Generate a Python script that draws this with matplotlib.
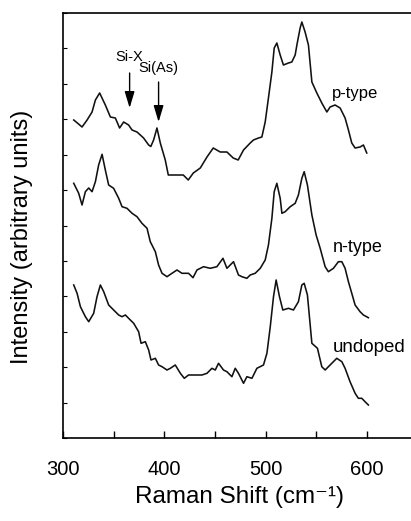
import numpy as np
import matplotlib
matplotlib.use("Agg")
import matplotlib.pyplot as plt

plt.rcParams['font.family'] = ['Liberation Sans', 'DejaVu Sans']

# Raman shift (cm^-1) and offset intensities (arbitrary units) for each sample
p_shift = [310.6, 314.2, 318.8, 323.8, 328.7, 332.0, 336.2, 341.8, 346.8, 351.7,
           355.9, 359.9, 364.8, 368.2, 373.1, 379.6, 384.6, 386.7, 389.5, 392.8,
           396.1, 401.0, 404.0, 408.9, 418.8, 423.7, 428.7, 435.6, 442.2, 448.4,
           455.3, 461.9, 468.1, 473.0, 478.3, 484.9, 488.1, 493.1, 496.4, 499.7,
           502.9, 506.3, 508.6, 511.2, 514.5, 517.7, 522.7, 526.0, 529.3, 531.0,
           534.2, 535.9, 539.1, 542.4, 545.8, 550.7, 555.6, 560.6, 563.8, 568.7,
           573.7, 578.6, 581.9, 585.2, 588.5, 593.4, 596.7, 600.0]
p_int = [318, 315, 311, 318, 326, 338, 345, 333, 321, 320,
         310, 316, 313, 308, 306, 300, 293, 291.5, 298, 310,
         295, 278, 263, 263, 263, 258, 265, 270, 281, 290,
         286, 286, 280, 278, 288, 295, 298, 300, 301, 316,
         340, 366, 390, 395, 383, 373, 375, 376, 383, 393,
         410, 416, 406, 393, 356, 345, 335, 326, 331, 333,
         330, 320, 308, 295, 290, 291, 293, 285]

n_shift = [310.6, 315.5, 318.8, 322.1, 325.4, 328.7, 332.0, 335.2, 338.6, 341.8,
           345.1, 350.0, 355.0, 358.3, 363.2, 368.2, 373.1, 378.0, 383.0, 386.2,
           391.2, 394.4, 397.8, 402.7, 407.6, 412.6, 417.5, 424.0, 428.4, 432.3,
           438.8, 445.4, 452.0, 458.0, 461.9, 468.4, 473.3, 476.7, 481.6, 484.9,
           489.8, 494.8, 499.7, 502.9, 506.3, 508.6, 511.2, 514.5, 516.2, 519.4,
           524.4, 529.3, 532.5, 535.9, 538.2, 541.4, 545.8, 550.0, 554.0, 558.9,
           562.1, 567.1, 572.0, 575.4, 578.6, 581.9, 585.2, 588.5, 593.4, 596.7,
           601.6]
n_int = [254.7, 244.7, 233, 246.3, 250, 246.3, 256.3, 273, 283.7, 268,
         253, 249.7, 239.7, 231.3, 229.7, 224.7, 221.3, 214.7, 209.7, 196.3,
         186.3, 173, 164.7, 161.3, 164.7, 168, 164.7, 164.7, 160.3, 168,
         171.3, 169.7, 171.3, 179.7, 169.7, 176.3, 163, 161.3, 159.7, 163,
         164.7, 169.7, 178, 193, 219.7, 246.3, 254.7, 239.7, 224.7, 226.3,
         231.3, 234.7, 243, 259.7, 266.3, 253, 223, 203, 189.7, 171.3,
         166.3, 169.7, 176.3, 176.3, 169.7, 156.3, 144.7, 133, 126.3, 123,
         120.3]

u_shift = [310.6, 313.9, 317.2, 322.1, 325.4, 330.3, 333.6, 336.9, 340.2, 345.1,
           350.0, 355.0, 358.3, 361.6, 364.8, 369.8, 374.7, 377.1, 381.3, 384.6,
           386.9, 391.2, 394.4, 397.8, 402.7, 406.0, 410.9, 415.9, 419.8, 424.0,
           430.6, 437.2, 442.2, 447.1, 450.4, 453.6, 458.5, 461.9, 466.8, 470.1,
           473.3, 478.3, 481.6, 486.6, 491.5, 498.0, 501.4, 504.7, 507.9, 510.5,
           513.8, 517.1, 522.7, 527.6, 532.5, 535.9, 538.2, 541.4, 545.8, 551.3,
           555.6, 558.9, 563.8, 570.4, 575.4, 578.6, 583.5, 588.5, 591.7, 595.1,
           598.3, 601.6]
u_int = [153, 144.7, 131.3, 121.3, 116.3, 124.7, 141.3, 153, 146.3, 133,
         128, 123, 121.3, 123, 119.7, 114.7, 106.3, 94.7, 96.3, 88,
         78, 79.7, 73, 71.3, 68, 69.7, 73, 64.7, 59.7, 63,
         63, 63, 64.7, 69.7, 68, 74.7, 68, 66.3, 61.3, 69.7,
         64.7, 54.7, 61.3, 59.7, 69.7, 73, 84.7, 111.3, 141.3, 158,
         141.3, 128, 129.7, 128, 136.3, 153, 154.7, 143, 94.7, 89.7,
         71.3, 68, 73, 79.7, 76.3, 69.7, 56.3, 44.7, 39.7, 39.7,
         36.3, 33]

sample_names = ["p-type", "n-type", "undoped"]
label_pos = [(565.8, 345), (566.8, 191), (566.8, 90)]
label_sizes = [12, 13, 13.5]

peak_names = ["Si-X", "Si(As)"]
peak_shift = [365.8, 394.4]
peak_text_y = [381, 370]
arrow_tail = [365, 356]
arrow_tip = [330, 316]

x_major = [300, 400, 500, 600]
x_minor = [350, 450, 550]

fig = plt.figure(figsize=(4.11, 5.21), dpi=100)
ax = fig.add_axes([63 / 411, 83 / 521, 348 / 411, 425 / 521])

for xs, ys in [(p_shift, p_int), (n_shift, n_int), (u_shift, u_int)]:
    ax.plot(xs, ys, color='#111111', lw=1.15, solid_joinstyle='round')

for name, (tx, ty), fs in zip(sample_names, label_pos, label_sizes):
    ax.text(tx, ty, name, fontsize=fs, ha='left', va='center', color='black')

for name, xp, ty, tail, tip in zip(peak_names, peak_shift, peak_text_y, arrow_tail, arrow_tip):
    ax.text(xp, ty, name, fontsize=10.5, ha='center', va='center', color='black')
    ax.annotate('', xy=(xp, tip), xytext=(xp, tail),
                arrowprops=dict(arrowstyle='-|>,head_length=1.0,head_width=0.3',
                                mutation_scale=10, lw=1.0, color='black',
                                shrinkA=0, shrinkB=0))

ax.set_xlim(300, 643.7)
ax.set_ylim(0, 425)
ax.set_xticks(x_major)
ax.set_xticks(x_minor, minor=True)
ax.set_xticklabels([str(v) for v in x_major])
ax.set_yticks(np.linspace(0, 425, 13))
ax.set_yticklabels([])
ax.tick_params(axis='x', which='both', direction='in', length=5, width=1.0,
               labelsize=14.5, pad=16)
ax.tick_params(axis='y', direction='in', length=3, width=0.8)

for side in ['top', 'bottom', 'left']:
    ax.spines[side].set_linewidth(1.2)
ax.spines['right'].set_visible(False)

ax.set_xlabel('Raman Shift (cm\u207b\u00b9)', fontsize=17.5)
ax.xaxis.set_label_coords(0.506, -0.113)
ax.set_ylabel('Intensity (arbitrary units)', fontsize=17)
ax.yaxis.set_label_coords(-0.086, 0.473)

fig.savefig('out.png', dpi=100)
